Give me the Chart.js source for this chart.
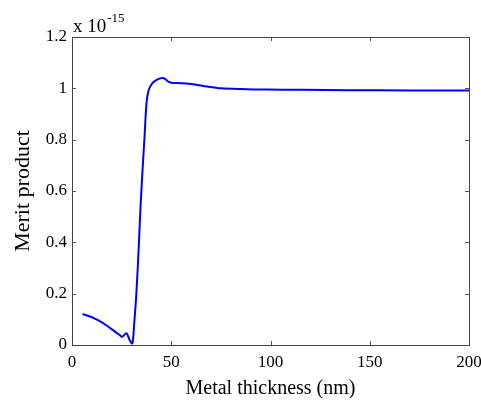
<!DOCTYPE html>
<html>
<head>
<meta charset="utf-8">
<script src="https://cdn.jsdelivr.net/npm/chart.js@4/dist/chart.umd.min.js"></script>
<style>
  html, body { margin: 0; padding: 0; background: #fff; }
  #wrap { width: 481px; height: 401px; }
</style>
</head>
<body>
<div id="wrap"><canvas id="myChart" width="481" height="401"></canvas></div>
<script>
// thickness (nm) and merit product (units of 1e-15)
var thickness = [5.3, 10, 14, 18, 22, 24, 25.3, 27.4, 29, 30.4, 31.3, 32.5, 33.6, 34.6, 35.6, 36.6, 37.5, 38.5, 40, 42, 44, 45.5, 47, 48.5, 50, 55, 61, 68, 75, 85, 98, 115, 140, 170, 200];
var merit = [0.121, 0.108, 0.093, 0.073, 0.05, 0.039, 0.032, 0.046, 0.02, 0.006, 0.08, 0.21, 0.38, 0.55, 0.69, 0.82, 0.94, 0.99, 1.015, 1.03, 1.038, 1.04, 1.036, 1.026, 1.022, 1.02, 1.016, 1.007, 1.0, 0.997, 0.995, 0.994, 0.993, 0.992, 0.992];
var xTicks = [0, 50, 100, 150, 200];
var yTicks = [0, 0.2, 0.4, 0.6, 0.8, 1, 1.2];

var points = [];
for (var i = 0; i < thickness.length; i++) {
    points.push({x: thickness[i], y: merit[i]});
}

var serif = '"Liberation Serif", "Times New Roman", serif';

// box, inward ticks on all sides, and the exponent label
var boxPlugin = {
    id: 'box',
    afterDraw: function(chart) {
        var ctx = chart.ctx;
        var a = chart.chartArea;
        var xs = chart.scales.x, ys = chart.scales.y;
        ctx.save();
        ctx.strokeStyle = '#555';
        ctx.lineWidth = 1;
        ctx.beginPath();
        xTicks.forEach(function(v) {
            var px = Math.round(xs.getPixelForValue(v)) + 0.5;
            ctx.moveTo(px, a.bottom); ctx.lineTo(px, a.bottom - 4);
            ctx.moveTo(px, a.top); ctx.lineTo(px, a.top + 4);
        });
        yTicks.forEach(function(v) {
            var py = Math.round(ys.getPixelForValue(v)) + 0.5;
            ctx.moveTo(a.left, py); ctx.lineTo(a.left + 4, py);
            ctx.moveTo(a.right, py); ctx.lineTo(a.right - 4, py);
        });
        ctx.stroke();
        ctx.strokeStyle = '#444';
        ctx.strokeRect(Math.round(a.left) + 0.5, Math.round(a.top) + 0.5,
                       Math.round(a.right - a.left), Math.round(a.bottom - a.top));
        ctx.fillStyle = '#000';
        ctx.textBaseline = 'alphabetic';
        ctx.font = '19px ' + serif;
        ctx.fillText('x 10', a.left + 1, 32);
        var w = ctx.measureText('x 10').width;
        ctx.font = '13px ' + serif;
        ctx.fillText('-15', a.left + 1 + w + 1, 22);
        ctx.restore();
    }
};

new Chart(document.getElementById('myChart'), {
    type: 'line',
    data: {
        datasets: [{
            data: points,
            borderColor: '#0000ff',
            borderWidth: 2,
            pointRadius: 0,
            tension: 0.3,
            fill: false
        }]
    },
    options: {
        responsive: false,
        animation: false,
        layout: { padding: { top: 37, right: 12, left: 0, bottom: 0 } },
        plugins: { legend: { display: false }, tooltip: { enabled: false } },
        scales: {
            x: {
                type: 'linear',
                min: 0, max: 200,
                afterBuildTicks: function(s) { s.ticks = xTicks.map(function(v) { return {value: v}; }); },
                afterFit: function(s) { s.height = 56; s.paddingLeft = 0; s.paddingRight = 0; },
                grid: { display: false, drawTicks: false },
                border: { display: false },
                ticks: { color: '#000', padding: 7, maxRotation: 0, font: { family: serif, size: 17 } },
                title: { display: true, text: 'Metal thickness (nm)', color: '#000', padding: { top: 3, bottom: 0 }, font: { family: serif, size: 20 } }
            },
            y: {
                min: 0, max: 1.2,
                afterBuildTicks: function(s) { s.ticks = yTicks.map(function(v) { return {value: v}; }); },
                afterFit: function(s) { s.width = 72; s.paddingTop = 0; s.paddingBottom = 0; },
                grid: { display: false, drawTicks: false },
                border: { display: false },
                ticks: { color: '#000', padding: 5, font: { family: serif, size: 17 },
                         callback: function(v) { return String(Math.round(v * 10) / 10); } },
                title: { display: true, text: 'Merit product', color: '#000', padding: { top: 10, bottom: 4 }, font: { family: serif, size: 22 } }
            }
        }
    },
    plugins: [boxPlugin]
});
</script>
</body>
</html>
